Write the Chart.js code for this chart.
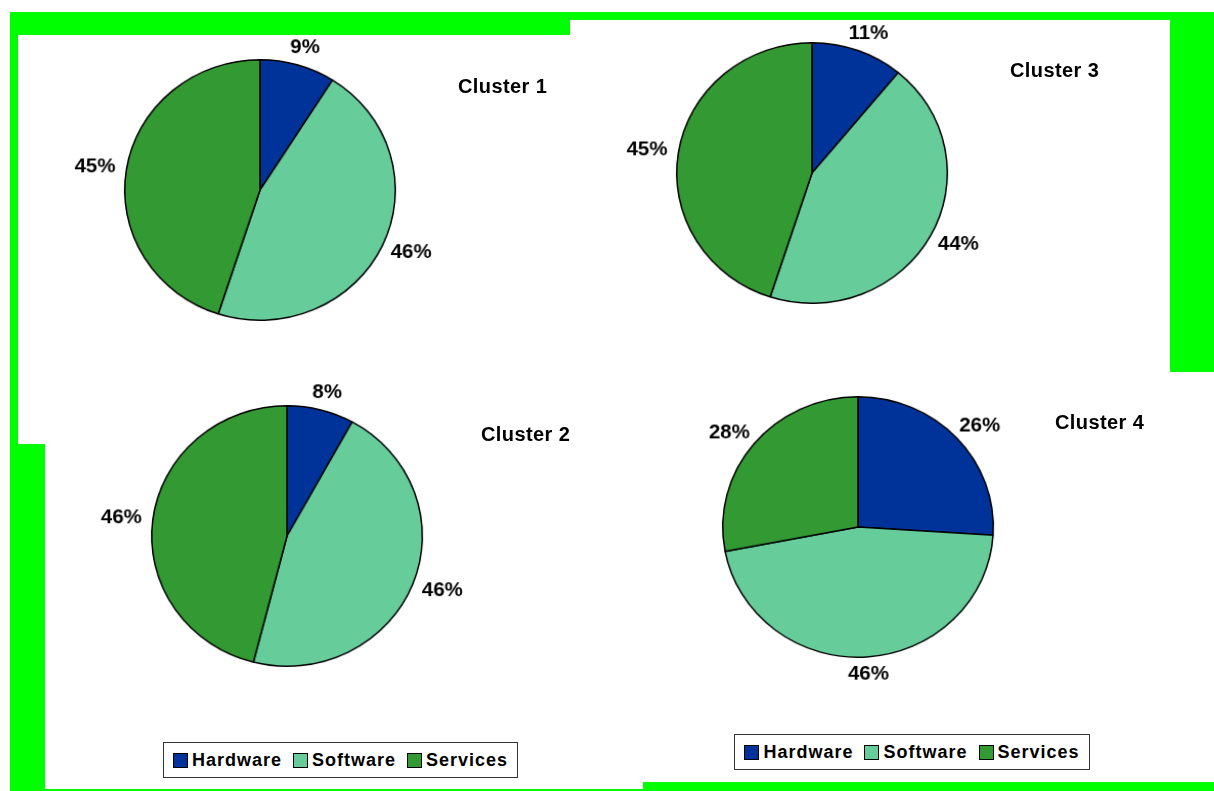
<!DOCTYPE html>
<html lang="en">
<head>
    <meta charset="UTF-8">
    <title>Cluster spending mix</title>
    <script src="https://cdn.jsdelivr.net/npm/chart.js"></script>
    <style>
        body { margin: 0; background: #fff; font-family: "Liberation Sans", Arial, sans-serif; }
        .page { position: relative; width: 1214px; height: 791px; overflow: hidden; }
        .block { position: absolute; }
        .green { background: #00ff00; }
        .white { background: #fff; }
        /* pies come out a touch wider than tall */
        .pie { position: absolute; transform: scale(1.023, 0.985); transform-origin: 210px 170px; }
        .title { position: absolute; font-weight: bold; font-size: 20px; letter-spacing: 0.4px; white-space: nowrap; color: #000; }
        .legend { position: absolute; box-sizing: border-box; border: 1.5px solid #333; background: #fff;
                  display: flex; align-items: center; justify-content: center; gap: 11px;
                  font-weight: bold; font-size: 18px; letter-spacing: 1px; color: #000; }
        .legend span.item { display: flex; align-items: center; white-space: nowrap; }
        .legend i { display: inline-block; width: 13px; height: 13px; border: 1px solid #000; margin-right: 4px; }
    </style>
</head>
<body>
<div class="page" id="page">
    <!-- green backdrop with the white sheets laid over it -->
    <div class="block green" style="left:10px;top:12px;width:1204px;height:779px"></div>
    <div class="block white" style="left:18px;top:35px;width:552px;height:409px"></div>
    <div class="block white" style="left:45px;top:35px;width:598px;height:754px"></div>
    <div class="block white" style="left:570px;top:20px;width:600px;height:352px"></div>
    <div class="block white" style="left:570px;top:372px;width:644px;height:410px"></div>

    <canvas id="pie1" class="pie" width="420" height="340" style="left:50px;top:20px"></canvas>
    <canvas id="pie2" class="pie" width="420" height="340" style="left:77px;top:366px"></canvas>
    <canvas id="pie3" class="pie" width="420" height="340" style="left:602px;top:3px"></canvas>
    <canvas id="pie4" class="pie" width="420" height="340" style="left:648px;top:357px"></canvas>

    <div class="title" style="left:458px;top:75px">Cluster 1</div>
    <div class="title" style="left:481px;top:423px">Cluster 2</div>
    <div class="title" style="left:1010px;top:59px">Cluster 3</div>
    <div class="title" style="left:1055px;top:411px">Cluster 4</div>

    <div class="legend" id="legendLeft" style="left:163px;top:742px;width:355px;height:36px"></div>
    <div class="legend" id="legendRight" style="left:734px;top:734px;width:356px;height:36px"></div>
</div>

<script>
    // slice categories and their fill colours
    const categories = ["Hardware", "Software", "Services"];
    const sliceColors = ["#003399", "#66CC99", "#339933"];

    // share of each category (%) per cluster
    const cluster1 = [9, 46, 45];
    const cluster2 = [8, 46, 46];
    const cluster3 = [11, 44, 45];
    const cluster4 = [26, 46, 28];

    // writes "NN%" just outside each slice, along the slice's middle angle
    const outsideLabels = {
        id: "outsideLabels",
        afterDatasetsDraw(chart) {
            const ctx = chart.ctx;
            const meta = chart.getDatasetMeta(0);
            const values = chart.data.datasets[0].data;
            const gap = 11;
            ctx.save();
            ctx.font = 'bold 20px "Liberation Sans", Arial, sans-serif';
            ctx.fillStyle = "#000";
            ctx.textAlign = "center";
            ctx.textBaseline = "middle";
            meta.data.forEach((arc, i) => {
                const p = arc.getProps(["x", "y", "startAngle", "endAngle", "outerRadius"], true);
                const mid = (p.startAngle + p.endAngle) / 2;
                const text = values[i] + "%";
                const w = ctx.measureText(text).width;
                const h = 14;
                const ax = p.x + Math.cos(mid) * (p.outerRadius + gap);
                const ay = p.y + Math.sin(mid) * (p.outerRadius + gap);
                ctx.fillText(text, ax + Math.cos(mid) * w / 2, ay + Math.sin(mid) * h / 2);
            });
            ctx.restore();
        }
    };

    function makePie(id, values) {
        const ctx = document.getElementById(id).getContext("2d");
        return new Chart(ctx, {
            type: "pie",
            data: {
                labels: categories,
                datasets: [{
                    data: values,
                    backgroundColor: sliceColors,
                    borderColor: "#000",
                    borderWidth: 1.5
                }]
            },
            options: {
                responsive: false,
                animation: false,
                events: [],
                layout: { padding: { left: 77, right: 77, top: 37, bottom: 37 } },
                plugins: {
                    legend: { display: false },
                    tooltip: { enabled: false }
                }
            },
            plugins: [outsideLabels]
        });
    }

    makePie("pie1", cluster1);
    makePie("pie2", cluster2);
    makePie("pie3", cluster3);
    makePie("pie4", cluster4);

    // shared legend boxes under each column
    function fillLegend(id) {
        const box = document.getElementById(id);
        categories.forEach((name, i) => {
            const item = document.createElement("span");
            item.className = "item";
            const sw = document.createElement("i");
            sw.style.background = sliceColors[i];
            item.appendChild(sw);
            item.appendChild(document.createTextNode(name));
            box.appendChild(item);
        });
    }
    fillLegend("legendLeft");
    fillLegend("legendRight");
</script>
</body>
</html>
